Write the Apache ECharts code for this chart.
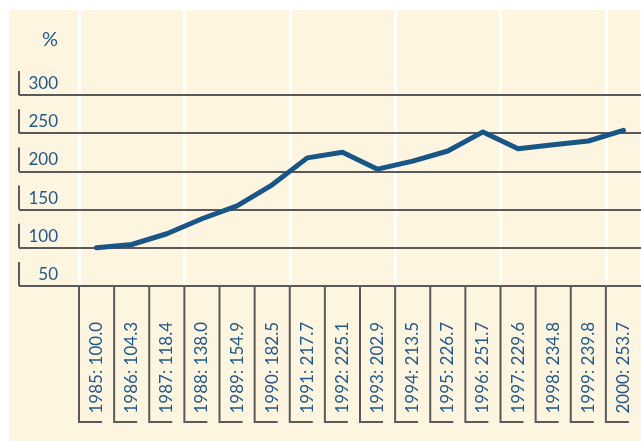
<!DOCTYPE html>
<html>
<head>
<meta charset="utf-8">
<script src="https://cdn.jsdelivr.net/npm/echarts@6/dist/echarts.min.js"></script>
<style>html,body{margin:0;padding:0;background:#fff;}#c{width:641px;height:441px;}</style>
</head>
<body>
<div id="c"></div>
<script>
var categories = ['1985: 100.0','1986: 104.3','1987: 118.4','1988: 138.0','1989: 154.9','1990: 182.5','1991: 217.7','1992: 225.1','1993: 202.9','1994: 213.5','1995: 226.7','1996: 251.7','1997: 229.6','1998: 234.8','1999: 239.8','2000: 253.7'];
var values = [100.0,104.3,118.4,138.0,154.9,182.5,217.7,225.1,202.9,213.5,226.7,251.7,229.6,234.8,239.8,253.7];
var yTicks = [50,100,150,200,250,300];
var yMin = 50, yMax = 300, yStep = 50;

var BLUE = '#21598c', GRAY = '#5a5a5a', FONT = 'Lato';
var chart = echarts.init(document.getElementById('c'), null, {renderer:'canvas'});
chart.setOption({
  animation: false,
  backgroundColor: '#ffffff',
  graphic: [
    {type:'rect', z:-10, shape:{x:9, y:10, width:700, height:500}, style:{fill:'#fef5e1'}},
    {type:'text', x:58, y:40, style:{text:'%', fill:BLUE, font:'20px ' + FONT, textAlign:'right', textVerticalAlign:'middle'}}
  ],
  grid: [
    {left:79, width:566, top:10, height:276},
    {left:79, width:566, top:95, height:191},
    {left:19, width:626, top:95, height:191}
  ],
  xAxis: [
    {gridIndex:0, type:'category', data:categories, z:0, axisLine:{show:false}, axisTick:{show:false}, axisLabel:{show:false},
     splitLine:{show:true, lineStyle:{color:'#ffffff', width:3}}},
    {gridIndex:1, type:'category', data:categories, z:2, axisLine:{show:false}, axisTick:{show:false},
     axisLabel:{rotate:90, margin:36, color:BLUE, fontFamily:FONT, fontSize:17}},
    {gridIndex:2, type:'value', min:0, max:1, show:false}
  ],
  yAxis: [
    {gridIndex:0, type:'value', show:false},
    {gridIndex:1, type:'value', min:yMin, max:yMax, interval:yStep, show:false},
    {gridIndex:2, type:'value', min:yMin, max:yMax, interval:yStep, z:1,
     axisLine:{show:false}, axisTick:{show:false},
     splitLine:{show:true, lineStyle:{color:GRAY, width:2}},
     axisLabel:{inside:true, margin:39, align:'right', verticalAlign:'bottom', padding:[0,0,3,0], color:BLUE, fontFamily:FONT, fontSize:17}}
  ],
  series: [
    {type:'custom', xAxisIndex:2, yAxisIndex:2, clip:false, z:3,
     data: yTicks.map(function(v){return [0, v];}),
     renderItem: function(params, api){
       var p = api.coord([api.value(0), api.value(1)]);
       return {type:'line', shape:{x1:p[0], y1:p[1], x2:p[0], y2:p[1]-24}, style:{stroke:GRAY, lineWidth:2}};
     }},
    {type:'custom', xAxisIndex:1, yAxisIndex:1, clip:false, z:3,
     data: categories.map(function(c, i){return [i, yMin];}),
     renderItem: function(params, api){
       var p = api.coord([api.value(0), api.value(1)]);
       var w = api.size([1, 0])[0];
       var bx = p[0] - w/2;
       return {type:'polyline', shape:{points:[[bx, p[1]], [bx, p[1]+136], [bx+23, p[1]+136]]}, style:{stroke:GRAY, lineWidth:2, fill:null}};
     }},
    {type:'line', xAxisIndex:1, yAxisIndex:1, data:values, symbol:'none', z:5,
     lineStyle:{color:'#185688', width:5, cap:'round', join:'round'}}
  ]
});
</script>
</body>
</html>
